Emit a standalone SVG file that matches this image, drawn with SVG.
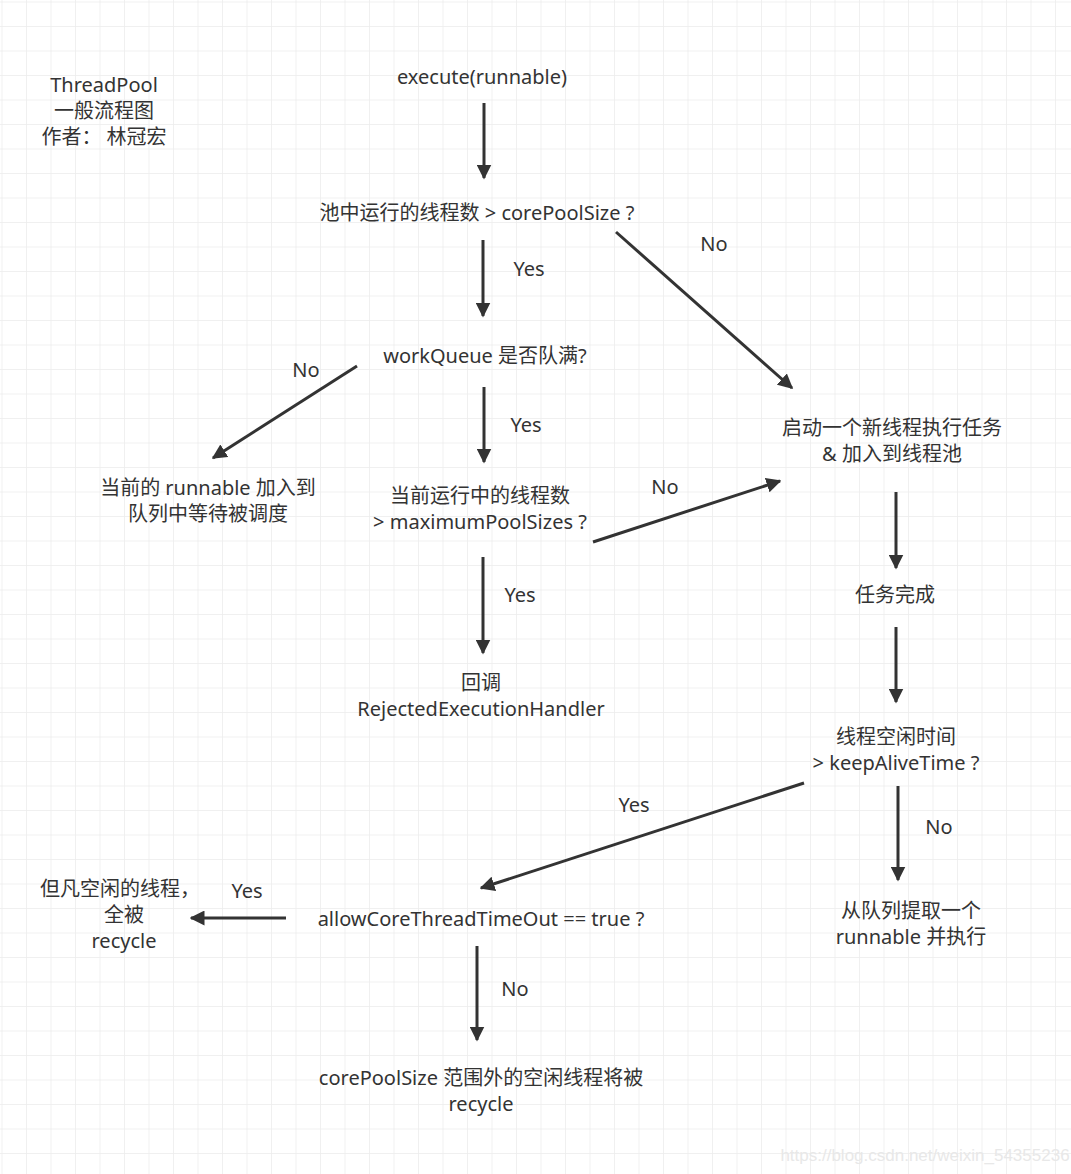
<svg xmlns="http://www.w3.org/2000/svg" width="1071" height="1174" viewBox="0 0 1071 1174">
<defs>
<pattern id="grid" width="24.5" height="24.5" patternUnits="userSpaceOnUse" x="1.5" y="1.5">
<path d="M0 0H24.5M0 0V24.5" fill="none" stroke="#ececec" stroke-width="1.5"/>
</pattern>
<marker id="ah" viewBox="0 0 10 10" refX="9" refY="5" markerWidth="5" markerHeight="5" orient="auto" markerUnits="strokeWidth">
<path d="M0 0L10 5L0 10Z" fill="#333"/>
</marker>
<style>
text{font-family:"Noto Sans","Noto Sans CJK SC",sans-serif;font-size:20px;fill:#333;text-anchor:middle}
.c line{stroke:#333;stroke-width:3;marker-end:url(#ah)}
.w{font-family:"Liberation Sans",sans-serif;fill:#e8e8e8;font-size:17px}
</style>
</defs>
<rect width="1071" height="1174" fill="#fff"/>
<rect width="1071" height="1174" fill="url(#grid)"/>
<g id="title"><text x="104" y="92">ThreadPool</text><text x="104" y="118">一般流程图</text><text x="104" y="144">作者：  林冠宏</text></g>
<g id="n1"><text x="482" y="84">execute(runnable)</text></g>
<g id="n2"><text x="477" y="220">池中运行的线程数 &gt; corePoolSize ?</text></g>
<g id="n3"><text x="485" y="363">workQueue 是否队满?</text></g>
<g id="n4"><text x="208" y="495">当前的 runnable 加入到</text><text x="208" y="521">队列中等待被调度</text></g>
<g id="n5"><text x="480" y="503">当前运行中的线程数</text><text x="480" y="529">&gt; maximumPoolSizes ?</text></g>
<g id="n6"><text x="892" y="435">启动一个新线程执行任务</text><text x="892" y="461">&amp; 加入到线程池</text></g>
<g id="n7"><text x="481" y="690">回调</text><text x="481" y="716">RejectedExecutionHandler</text></g>
<g id="n8"><text x="895" y="602">任务完成</text></g>
<g id="n9"><text x="896" y="744">线程空闲时间</text><text x="896" y="770">&gt; keepAliveTime ?</text></g>
<g id="n10"><text x="481" y="926">allowCoreThreadTimeOut == true  ?</text></g>
<g id="n11"><text x="120" y="896">但凡空闲的线程，</text><text x="124" y="922">全被</text><text x="124" y="948">recycle</text></g>
<g id="n12"><text x="911" y="918">从队列提取一个</text><text x="911" y="944">runnable 并执行</text></g>
<g id="n13"><text x="481" y="1085">corePoolSize 范围外的空闲线程将被</text><text x="481" y="1111">recycle</text></g>
<g class="c" id="connectors">
<line x1="484" y1="103" x2="484" y2="178"/>
<line x1="483" y1="240" x2="483" y2="316"/>
<text x="529" y="276">Yes</text>
<line x1="616" y1="232" x2="792" y2="388"/>
<text x="714" y="251">No</text>
<line x1="484" y1="387" x2="484" y2="462"/>
<text x="526" y="432">Yes</text>
<line x1="357" y1="366" x2="213" y2="458"/>
<text x="306" y="377">No</text>
<line x1="593" y1="542" x2="780" y2="481"/>
<text x="665" y="494">No</text>
<line x1="483" y1="557" x2="483" y2="653"/>
<text x="520" y="602">Yes</text>
<line x1="896" y1="492" x2="896" y2="568"/>
<line x1="896" y1="627" x2="896" y2="702"/>
<line x1="804" y1="783" x2="481" y2="888"/>
<text x="634" y="812">Yes</text>
<line x1="898" y1="786" x2="898" y2="880"/>
<text x="939" y="834">No</text>
<line x1="286" y1="918" x2="191" y2="918"/>
<text x="247" y="898">Yes</text>
<line x1="477" y1="946" x2="477" y2="1040"/>
<text x="515" y="996">No</text>
</g>
<text class="w" x="925" y="1161">https://blog.csdn.net/weixin_54355236</text>
</svg>
